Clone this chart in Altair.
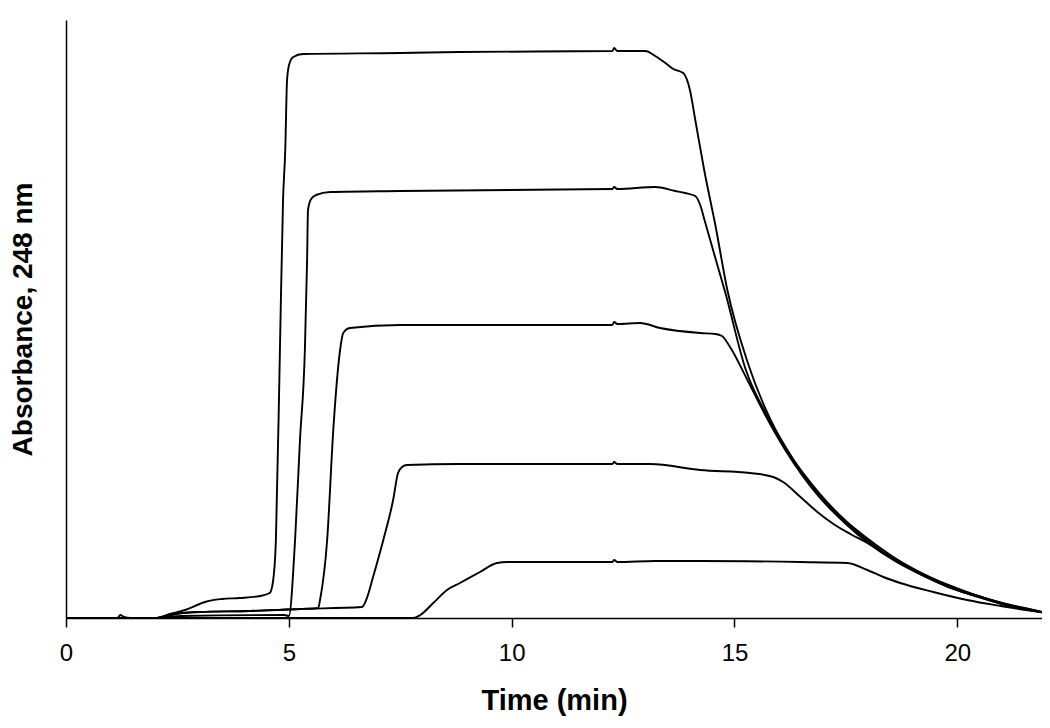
import altair as alt
import pandas as pd

# Series (time in min, absorbance in arbitrary units)
c1_x = [0, 1.15, 1.22, 1.3, 1.45, 2.0, 2.33, 2.67, 3.0, 3.12, 3.5, 3.9, 4.35, 4.57, 4.64, 4.71, 4.80, 4.87, 4.92, 4.96, 5.01, 5.10, 5.32, 7.5, 8.84, 12.26, 12.3, 12.37, 13.0, 13.22, 13.45, 13.63, 13.85, 14.0, 14.12, 14.32, 14.57, 14.84, 15.3, 15.8, 16.3, 16.9, 17.5, 18.0, 18.6, 19.2, 19.8, 20.4, 21.0, 21.5, 22.0]
c1_y = [0, 0, 3, 1, 0, 0, 4, 8, 14, 16, 19, 20, 22, 25, 35, 78, 268, 418, 468, 538, 554, 561, 564, 565, 566, 567, 570, 567, 567, 562, 555, 549, 545, 528, 498, 448, 393, 328, 255, 199, 160, 125, 97, 79, 60, 45, 33, 23, 15, 10, 5]

c2_x = [0, 2.0, 2.6, 4.9, 5.0, 5.14, 5.25, 5.36, 5.41, 5.43, 5.50, 5.61, 5.93, 7.5, 12.26, 12.30, 12.37, 13.22, 13.67, 13.89, 14.12, 14.23, 14.34, 14.57, 14.79, 15.24, 15.8, 16.3, 16.9, 17.5, 18.0, 18.6, 19.2, 19.8, 20.4, 21.0, 21.5, 22.0]
c2_y = [0, 0, 2, 3, 2, 78, 178, 268, 358, 408, 419, 423, 426, 427, 429, 431, 429, 431, 427, 425, 422, 413, 396, 360, 326, 250, 197, 158, 123, 96, 77, 58, 44, 32, 23, 15, 10, 5]

c3_x = [0, 2.0, 2.45, 3.0, 4.13, 5.25, 5.66, 5.70, 5.86, 6.0, 6.15, 6.22, 6.37, 7.5, 12.26, 12.30, 12.37, 12.88, 13.33, 14.23, 14.57, 14.72, 14.9, 15.29, 15.69, 16.14, 16.9, 17.5, 18.0, 18.6, 19.2, 19.8, 20.4, 21.0, 21.5, 22.0]
c3_y = [0, 0, 4, 6, 7, 9, 10, 18, 78, 190, 268, 285, 290, 293, 293, 296, 294, 295, 290, 285, 284, 282, 271, 238, 203, 168, 121, 94, 75, 57, 43, 31, 22, 14, 9, 5]

c4_x = [0, 2.0, 2.45, 3.0, 4.13, 5.25, 6.64, 6.76, 6.89, 7.12, 7.34, 7.45, 7.54, 7.65, 8.84, 12.26, 12.3, 12.37, 13.11, 14.23, 15.35, 15.87, 16.09, 16.48, 16.86, 17.22, 17.6, 17.98, 18.6, 19.2, 19.8, 20.4, 21.0, 21.5, 22.0]
c4_y = [0, 0, 4, 6, 7, 9, 11, 21, 41, 78, 118, 145, 151, 153, 154, 154, 156, 154, 154, 148, 145, 141, 136, 121, 106, 94, 84, 75, 58, 43, 31, 22, 14, 9, 5]

c5_x = [0, 7.79, 7.95, 8.24, 8.55, 8.84, 9.29, 9.67, 9.9, 10.64, 12.26, 12.3, 12.37, 13.22, 14.23, 16.48, 17.53, 17.98, 18.34, 18.72, 19.46, 20.22, 20.97, 22.0]
c5_y = [0, 0, 3, 15, 28, 35, 46, 55, 56, 56, 56, 58, 56, 57, 57, 56, 55, 48, 41, 35, 26, 18, 12, 5]

series = [("1", c1_x, c1_y), ("2", c2_x, c2_y), ("3", c3_x, c3_y),
          ("4", c4_x, c4_y), ("5", c5_x, c5_y)]

rows = []
for name, xs, ys in series:
    for i, (x, y) in enumerate(zip(xs, ys)):
        rows.append({"series": name, "t": x, "a": y, "i": i})
df = pd.DataFrame(rows)

FONT = "Liberation Sans"

chart = alt.Chart(df).mark_line(
    interpolate="monotone", strokeWidth=1.9, clip=True
).encode(
    x=alt.X("t:Q",
            scale=alt.Scale(domain=[0, 21.9], nice=False, zero=False),
            axis=alt.Axis(values=[0, 5, 10, 15, 20], title="Time (min)",
                          grid=False, tickSize=9, tickColor="black",
                          tickWidth=1.5, domainColor="black", domainWidth=1.5,
                          labelFont=FONT, labelFontSize=24, labelColor="black",
                          labelPadding=14, labelFlush=False,
                          titleFont=FONT, titleFontSize=29,
                          titleFontWeight="bold", titleColor="black",
                          titlePadding=21)),
    y=alt.Y("a:Q",
            scale=alt.Scale(domain=[0, 598], nice=False),
            axis=alt.Axis(title="Absorbance, 248 nm", grid=False, labels=False,
                          ticks=False, domainColor="black", domainWidth=1.5,
                          titleFont=FONT, titleFontSize=28,
                          titleFontWeight="bold", titleColor="black",
                          titlePadding=29)),
    detail="series:N",
    order="i:Q",
    color=alt.value("black"),
).properties(
    width=976, height=598,
    background="white",
    autosize=alt.AutoSizeParams(type="none"),
    padding={"left": 58, "top": 12, "right": 0, "bottom": 100},
).configure_view(stroke=None)

chart.save("out.html", embed_options={"renderer": "svg", "actions": False})
